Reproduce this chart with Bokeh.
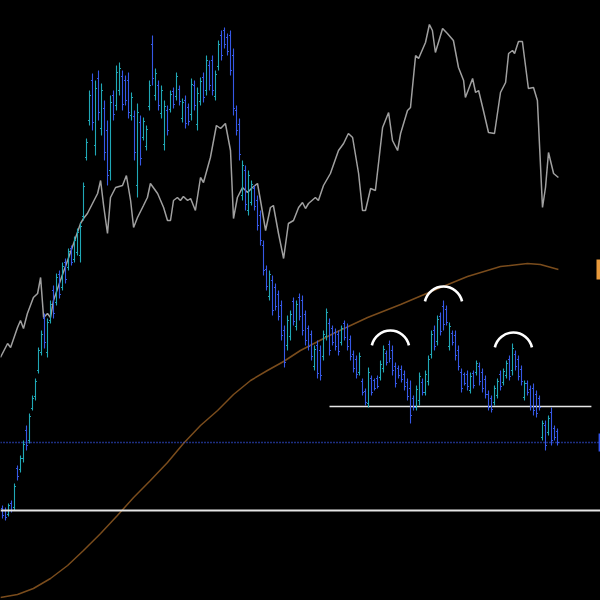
import math
import numpy as np
from bokeh.plotting import figure
from bokeh.models import Range1d, ColumnDataSource, Span
from bokeh.embed import file_html
from bokeh.resources import INLINE

# ---------------- data (chart price units) ----------------
high = [95, 93, 97, 100, 117, 135, 145, 160, 175, 187, 205, 222, 253, 270, 287, 282, 300, 315, 327, 330,
        338, 342, 352, 355, 364, 372, 378, 418, 462, 510, 527, 520, 530, 517, 500, 480, 505, 510, 535, 538,
        530, 525, 528, 508, 490, 497, 485, 483, 475, 520, 565, 532, 520, 515, 500, 495, 510, 513, 528, 515,
        502, 505, 497, 522, 520, 513, 523, 528, 545, 540, 545, 530, 560, 570, 573, 567, 570, 552, 495, 482,
        440, 435, 430, 420, 415, 405, 390, 360, 335, 330, 325, 317, 310, 300, 275, 285, 290, 303, 300, 307,
        305, 290, 275, 270, 255, 260, 255, 270, 292, 282, 275, 272, 270, 275, 280, 277, 265, 250, 245, 248,
        222, 212, 233, 225, 222, 225, 240, 255, 250, 260, 255, 238, 235, 235, 230, 222, 220, 205, 215, 228,
        222, 230, 245, 270, 275, 285, 288, 300, 295, 278, 270, 270, 255, 232, 228, 230, 228, 230, 240, 238,
        232, 225, 210, 205, 215, 222, 230, 232, 240, 245, 257, 250, 245, 235, 220, 220, 215, 217, 210, 205,
        180, 180, 185, 193, 175, 172]
low = [82, 80, 84, 88, 90, 120, 128, 138, 150, 157, 190, 200, 227, 245, 252, 243, 277, 282, 295, 302,
       310, 317, 330, 335, 338, 345, 338, 380, 440, 475, 470, 445, 480, 465, 440, 415, 420, 480, 490, 505,
       490, 495, 482, 480, 440, 403, 435, 460, 450, 490, 515, 500, 490, 482, 450, 465, 488, 492, 500, 495,
       478, 472, 475, 480, 490, 470, 495, 498, 505, 510, 505, 500, 530, 540, 552, 545, 525, 485, 465, 440,
       400, 390, 385, 395, 390, 370, 355, 325, 310, 300, 285, 290, 280, 260, 233, 250, 260, 275, 270, 280,
       265, 255, 250, 240, 230, 222, 220, 240, 260, 245, 255, 250, 245, 255, 260, 250, 240, 228, 222, 225,
       205, 195, 193, 205, 210, 212, 220, 228, 235, 238, 225, 213, 222, 218, 210, 200, 177, 190, 190, 195,
       205, 205, 215, 242, 250, 255, 265, 270, 275, 250, 255, 240, 230, 208, 215, 210, 207, 212, 225, 215,
       208, 202, 190, 188, 195, 202, 210, 215, 222, 220, 225, 230, 220, 215, 200, 205, 190, 185, 183, 190,
       160, 150, 165, 155, 160, 155]
open_ = [92, 90, 86, 97, 93, 132, 131, 142, 170, 160, 192, 204, 230, 248, 282, 248, 280, 310, 298, 326,
         313, 338, 333, 352, 341, 348, 345, 384, 443, 480, 520, 455, 522, 472, 492, 470, 430, 505, 495, 510,
         524, 520, 520, 485, 484, 415, 478, 463, 454, 494, 556, 505, 515, 487, 456, 490, 491, 509, 504, 511,
         482, 500, 493, 486, 515, 476, 499, 523, 510, 535, 540, 504, 534, 565, 570, 563, 565, 545, 490, 476,
         405, 430, 390, 398, 412, 400, 385, 355, 331, 304, 320, 313, 306, 295, 270, 255, 264, 299, 274, 303,
         300, 286, 272, 266, 234, 255, 250, 244, 264, 277, 272, 268, 266, 258, 277, 273, 261, 246, 241, 228,
         219, 209, 197, 222, 220, 222, 223, 232, 247, 256, 250, 234, 232, 231, 226, 218, 212, 202, 193, 200,
         218, 208, 219, 246, 270, 259, 284, 294, 291, 254, 267, 265, 250, 228, 226, 226, 210, 227, 228, 234,
         228, 221, 206, 202, 198, 205, 226, 218, 225, 241, 230, 246, 241, 231, 203, 217, 211, 212, 206, 202,
         163, 175, 168, 188, 172, 169]
close = [85, 83, 95, 90, 114, 124, 142, 156, 155, 184, 202, 219, 250, 266, 258, 278, 296, 287, 323, 306,
         334, 321, 349, 338, 360, 368, 374, 414, 458, 505, 478, 512, 488, 510, 448, 425, 498, 486, 528, 532,
         496, 500, 488, 503, 448, 488, 442, 479, 471, 515, 522, 527, 495, 510, 494, 470, 506, 496, 524, 499,
         498, 477, 479, 516, 495, 507, 519, 503, 540, 515, 510, 526, 556, 545, 556, 549, 530, 492, 470, 446,
         435, 396, 425, 416, 394, 375, 360, 330, 314, 326, 290, 294, 284, 265, 238, 280, 286, 279, 296, 284,
         270, 260, 254, 244, 251, 227, 225, 266, 288, 250, 258, 254, 249, 272, 263, 254, 244, 232, 226, 244,
         208, 198, 228, 208, 212, 214, 236, 251, 238, 242, 230, 217, 225, 221, 214, 204, 185, 193, 211, 224,
         208, 226, 241, 266, 254, 281, 269, 276, 278, 274, 258, 245, 234, 212, 217, 214, 224, 215, 237, 219,
         212, 206, 193, 191, 212, 219, 214, 229, 237, 224, 252, 234, 224, 219, 217, 208, 194, 190, 187, 193,
         177, 155, 182, 160, 163, 158]

# grey indicator line (bar index, value)
grey_x = [-0.7, 1.7, 2.7, 5, 6, 7, 8.3, 10.3, 11.7, 12.7, 13.7, 15, 16, 17, 19.3, 21.7, 23.7, 26, 27, 28.3,
          31.7, 32.7, 33.7, 35, 36, 37.7, 40, 41.3, 42.7, 43.7, 45, 47, 48.3, 49.3, 51.7, 53.7, 55, 56, 57, 58.3,
          59.3, 60.3, 61.7, 62.7, 64.3, 66, 67, 69.3, 71.3, 72.7, 74.3, 76, 77, 78.3, 80, 81.7, 83.3, 85, 86, 87.7,
          89.3, 90.3, 92, 93.7, 95.3, 97, 98.7, 100, 101, 102, 104.3, 105.3, 107, 109.3, 112, 113.7, 115.3, 116.7,
          118.7, 120, 121, 122.7, 124.3, 126.7, 128.7, 130, 131.7, 132.7, 135, 136, 137.7, 138.7, 141, 142.3,
          143.3, 144.3, 146.7, 148.3, 150.3, 152, 153.7, 154.3, 156.7, 157.7, 158.7, 160.3, 162, 164, 166, 167.7,
          168.7, 170, 170.7, 172, 173.3, 175.3, 177, 178.3, 180, 181, 182, 183.7, 185.3]
grey_y = [243, 257, 253, 273, 280, 272, 287, 303, 307, 323, 283, 287, 283, 300, 320, 340, 357, 377, 382, 387,
          407, 420, 395, 367, 403, 413, 415, 425, 400, 373, 383, 395, 403, 417, 407, 393, 380, 380, 400, 403,
          400, 404, 400, 402, 390, 423, 418, 443, 475, 472, 477, 450, 382, 403, 413, 408, 413, 417, 400, 370,
          393, 395, 367, 342, 377, 380, 393, 398, 392, 397, 403, 400, 415, 427, 450, 457, 467, 463,
          427, 390, 390, 412, 410, 473, 488, 460, 450, 467, 490, 493, 545, 542, 558, 576,
          570, 548, 572, 567, 560, 533, 520, 503, 522, 508, 510, 490, 468, 467, 508, 518,
          547, 550, 547, 559, 559, 512, 513, 500, 393, 413, 448, 427, 423]

# moving average (bar index, value)
ma_x = [-0.7, 5, 10.3, 16, 21.7, 27, 32.7, 38.3, 43.7, 49.3, 55, 60.3, 66, 71.7, 77, 82.7, 88.3, 93.7,
        99.3, 110.3, 121.7, 132.7, 143.7, 149.3, 155, 166, 175, 179.3, 185.3]
ma_y = [3, 6, 12, 22, 35, 50, 67, 85, 103, 120, 138, 157, 175, 190, 206, 220, 230, 239,
        250, 267, 283, 296, 310, 317, 324, 334, 337, 336, 331]

support_level = 90          # long white line
neckline_level = 194        # short white line
neckline_from, neckline_to = 109, 196.3
bid_level = 158             # blue dotted line

# head & shoulders arcs (bar index, value of arc centre)
arc_x = [129.3, 147.0, 170.3]
arc_y = [251, 295, 249]

# ---------------- figure ----------------
p = figure(width=600, height=600, output_backend="svg", toolbar_location=None,
           x_range=Range1d(-2 / 3, 598 / 3), y_range=Range1d(0, 600),
           x_axis_location=None, y_axis_location=None,
           background_fill_color="black", border_fill_color="black",
           outline_line_color=None, min_border=0)
p.grid.visible = False

UP = "#20a8b6"
DOWN = "#3658e6"
idx = np.arange(len(high))
o = np.array(open_, dtype=float)
c = np.array(close, dtype=float)
cols = [UP if cc >= oo else DOWN for oo, cc in zip(o, c)]
src = ColumnDataSource(dict(x=idx, xl=idx - 0.5, xr=idx + 0.5, h=high, l=low, o=o, c=c, col=cols))

# moving average under the bars
p.line(ma_x, ma_y, line_color="#7a4c1c", line_width=1.5)

# support lines
p.add_layout(Span(location=support_level, dimension="width", line_color="#e6e6e6", line_width=2))
p.segment(x0=[neckline_from], y0=[neckline_level], x1=[neckline_to], y1=[neckline_level],
          line_color="#e6e6e6", line_width=1.6)
p.add_layout(Span(location=bid_level, dimension="width", line_color="#3a5cff", line_width=1.5,
                  line_dash="1 2"))

# grey indicator line
p.line(grey_x, grey_y, line_color="#a0a0a0", line_width=1.5)

# OHLC bars
p.segment("x", "l", "x", "h", source=src, line_color="col", line_width=1.1)
p.segment("xl", "o", "x", "o", source=src, line_color="col", line_width=1.1)
p.segment("x", "c", "xr", "c", source=src, line_color="col", line_width=1.1)

# head & shoulders arcs
p.arc(x=arc_x, y=arc_y, radius=19, radius_units="screen", start_angle=0.22,
      end_angle=math.pi - 0.22, line_color="white", line_width=2.6)

# right-edge price tags (cut off at the edge)
p.quad(left=[198.0], right=[199.4], bottom=[ma_y[-1] - 10], top=[ma_y[-1] + 10],
       fill_color="#e89a3c", line_color=None)
p.quad(left=[198.7], right=[199.4], bottom=[bid_level - 9], top=[bid_level + 9],
       fill_color="#3355ee", line_color=None)

html = file_html(p, INLINE)
html = html.replace("</head>",
                    "<style>html,body{margin:0;padding:0;background:#000;overflow:hidden;}</style></head>", 1)
open("out.html", "w").write(html)
